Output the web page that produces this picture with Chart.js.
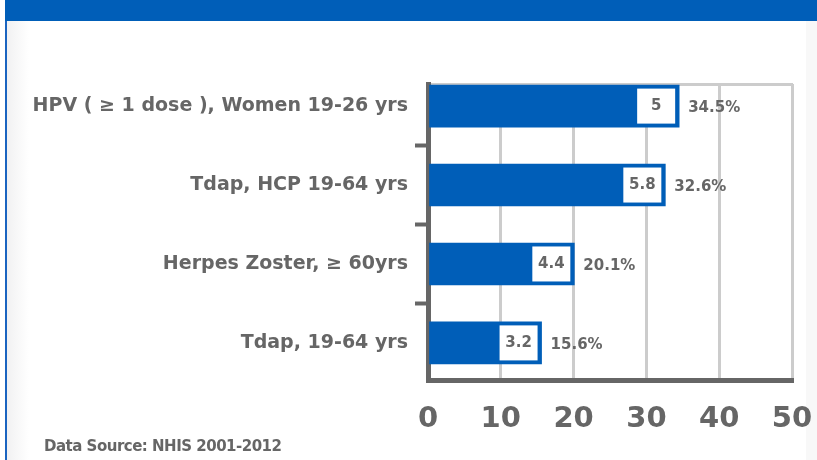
<!DOCTYPE html>
<html>
<head>
<meta charset="utf-8">
<script src="https://cdn.jsdelivr.net/npm/chart.js@4.4.1/dist/chart.umd.min.js"></script>
<style>
  html, body { margin: 0; padding: 0; background: #fff; }
  #page { position: relative; width: 817px; height: 460px; overflow: hidden; background: #fff; }
  #header { position: absolute; left: 5px; top: 0; width: 812px; height: 21px; background: #005EB8; }
  #leftline { position: absolute; left: 5px; top: 21px; width: 2px; height: 439px; background: #1a64c0; }
  #shade { position: absolute; left: 7px; top: 21px; width: 22px; height: 439px;
           background: linear-gradient(to right, #f1f1f2, #ffffff); }
  #rightshade { position: absolute; left: 806px; top: 21px; width: 11px; height: 439px; background: #f8f8f8; }
  #myChart { position: absolute; left: 0; top: 0; }
  #source { position: absolute; left: 44px; top: 437px; font: bold 15px "DejaVu Sans", sans-serif;
            color: #666666; letter-spacing: -0.5px; }
</style>
</head>
<body>
<div id="page">
  <div id="header"></div>
  <div id="leftline"></div>
  <div id="shade"></div>
  <div id="rightshade"></div>
  <canvas id="myChart" width="817" height="460"></canvas>
  <div id="source">Data Source: NHIS 2001-2012</div>
</div>
<script>
// datos del grafico
const categories = ["HPV ( \u2265 1 dose ), Women 19-26 yrs", "Tdap, HCP 19-64 yrs", "Herpes Zoster, \u2265 60yrs", "Tdap, 19-64 yrs"];
const coverage = [34.5, 32.6, 20.1, 15.6];
const boxValues = ["5", "5.8", "4.4", "3.2"];
const xTicks = [0, 10, 20, 30, 40, 50];

const blue = "#005EB8";
const gray = "#666666";
const font = "'DejaVu Sans', sans-serif";

// cajas blancas dentro de la barra y porcentaje a la derecha
const barLabels = {
  id: "barLabels",
  afterDatasetsDraw(chart) {
    const ctx = chart.ctx;
    const meta = chart.getDatasetMeta(0);
    ctx.save();
    meta.data.forEach(function (bar, i) {
      const p = bar.getProps(["x", "y", "height"], true);
      const boxW = 38;
      const boxH = p.height - 7;
      const bx = p.x - 4 - boxW;
      const by = p.y - boxH / 2;
      ctx.fillStyle = "#ffffff";
      ctx.fillRect(bx, by, boxW, boxH);
      ctx.fillStyle = gray;
      ctx.font = "bold 15px " + font;
      ctx.textAlign = "center";
      ctx.textBaseline = "middle";
      ctx.fillText(boxValues[i], bx + boxW / 2, p.y);
      ctx.textAlign = "left";
      ctx.fillText(coverage[i] + "%", p.x + 9, p.y + 2);
    });
    ctx.restore();
  }
};

const chartData = {
  datasets: [{
    data: coverage.map(function (v, i) { return { x: v, y: i }; }),
    backgroundColor: blue,
    borderWidth: 0,
    barThickness: 42
  }]
};

new Chart(document.getElementById("myChart"), {
  type: "bar",
  data: chartData,
  options: {
    indexAxis: "y",
    responsive: false,
    animation: false,
    layout: { padding: { top: 84, right: 25, left: 0, bottom: 0 } },
    plugins: { legend: { display: false }, tooltip: { enabled: false } },
    scales: {
      x: {
        type: "linear",
        min: 0,
        max: 50,
        afterBuildTicks: function (s) { s.ticks = xTicks.map(function (v) { return { value: v }; }); },
        afterFit: function (s) { s.height = 80; s.paddingLeft = 0; s.paddingRight = 0; },
        grid: { color: "#cccccc", lineWidth: 3, drawTicks: false },
        border: { color: gray, width: 5 },
        ticks: { color: gray, font: { family: font, size: 29, weight: "bold" }, padding: 22, maxRotation: 0 }
      },
      x2: {
        type: "linear",
        position: "top",
        afterFit: function (s) { s.height = 0; s.paddingLeft = 0; s.paddingRight = 0; },
        grid: { display: false },
        border: { color: "#cccccc", width: 3 },
        ticks: { display: false }
      },
      y: {
        type: "linear",
        reverse: true,
        offset: false,
        min: -0.28,
        max: 3.47,
        afterBuildTicks: function (s) { s.ticks = categories.map(function (c, i) { return { value: i }; }); },
        afterFit: function (s) { s.width = 428; },
        grid: { offset: true, drawOnChartArea: false, drawTicks: true, tickLength: 13, tickWidth: 4, tickColor: gray },
        border: { color: gray, width: 5 },
        ticks: {
          color: gray,
          font: { family: font, size: 19, weight: "bold" },
          padding: 7,
          callback: function (v) { return categories[v]; }
        }
      }
    }
  },
  plugins: [barLabels]
});
</script>
</body>
</html>
